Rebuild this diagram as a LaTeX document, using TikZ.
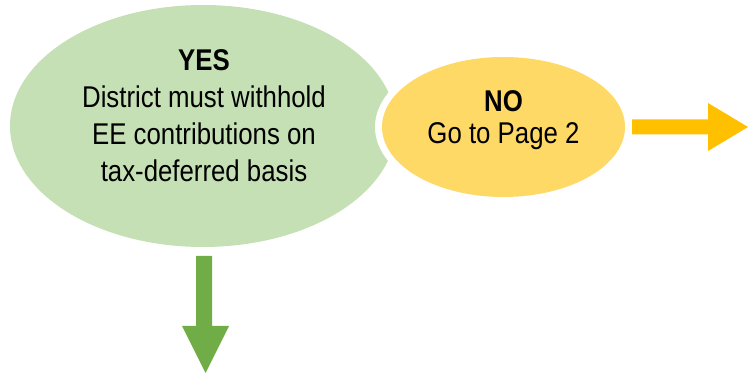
\documentclass[tikz,border=0pt]{standalone}
\usepackage{fontspec}
\setmainfont{Liberation Sans}[FakeStretch=0.86]
\usetikzlibrary{shapes.geometric}
\definecolor{lgreen}{HTML}{C5E0B4}
\definecolor{lorange}{HTML}{FFD966}
\definecolor{oarrow}{HTML}{FFC000}
\definecolor{garrow}{HTML}{70AD47}
\begin{document}
\begin{tikzpicture}[x=1pt,y=-1pt,
  blob/.style={ellipse, inner sep=0pt, draw=none},
  label30/.style={align=center, anchor=base, inner sep=0pt, text=black}]
\useasboundingbox (0,0) rectangle (748,374);
\node[blob, fill=lgreen, minimum width=386pt, minimum height=242pt] (yes) at (203,126) {};
\node[blob, fill=white, minimum width=257pt, minimum height=154pt] (noborder) at (503.5,127) {};
\node[blob, fill=lorange, minimum width=243pt, minimum height=140pt] (no) at (503.5,127) {};
\node[label30, font=\fontsize{30}{36.9}\selectfont] (yestext) at (204,181.5)
  {\textbf{YES}\\District must withhold\\EE contributions on\\tax-deferred basis};
\node[label30, font=\fontsize{30}{32.3}\selectfont] (notext) at (503.5,144)
  {\textbf{NO}\\Go to Page 2};
\fill[oarrow] (632,119.5) -- (708,119.5) -- (708,103) -- (748,127) -- (708,151) -- (708,134.5) -- (632,134.5) -- cycle;
\fill[garrow] (196,256) -- (212,256) -- (212,326) -- (229,326) -- (205.5,373) -- (182,326) -- (196,326) -- cycle;
\end{tikzpicture}
\end{document}
